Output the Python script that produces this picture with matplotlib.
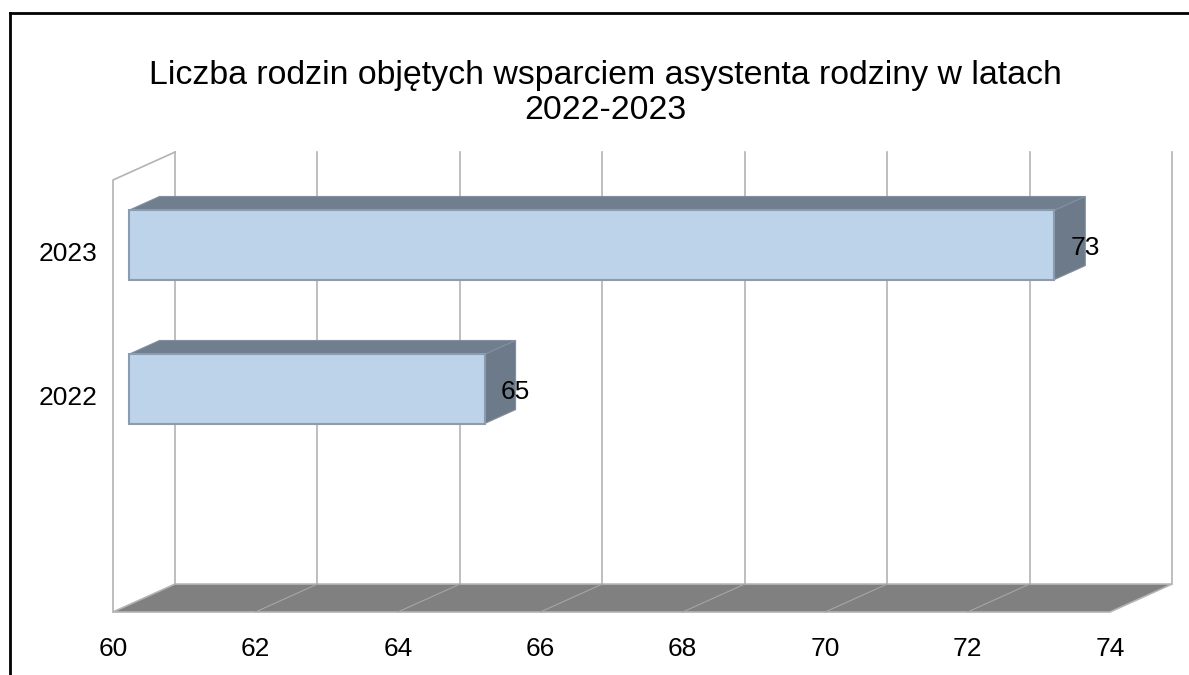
import numpy as np
import matplotlib
matplotlib.use('Agg')
import matplotlib.pyplot as plt
from matplotlib.patches import Polygon
from matplotlib.lines import Line2D

plt.rcParams['font.family'] = ['Liberation Sans', 'DejaVu Sans']

# dane
lata = ['2022', '2023']
rodziny = [65, 73]
tytul = 'Liczba rodzin objętych wsparciem asystenta rodziny w latach\n2022-2023'
x_ticks = [60, 62, 64, 66, 68, 70, 72, 74]

# os x 60-74, os y (kategorie) 0-3 odwrocona
XMIN, XMAX = 60, 74
YMIN, YMAX = 0, 3
DX = 0.871   # przesuniecie glebokosci w jednostkach x
DY = 0.194   # przesuniecie glebokosci w jednostkach y (w gore)
H = 0.24     # polowa wysokosci slupka


def proj(v, y, d):
    return (v + d * DX, y - d * DY)


fig = plt.figure(figsize=(11.89, 6.75), dpi=100)
ax = fig.add_axes([113 / 1189, 63 / 675, 997 / 1189, 432 / 675])
ax.set_xlim(XMIN, XMAX)
ax.set_ylim(YMAX, YMIN)
for s in ax.spines.values():
    s.set_visible(False)

grid_c = '#b3b3b3'

# tylna sciana - linie siatki
for k in x_ticks:
    p0 = proj(k, YMAX, 1)
    p1 = proj(k, YMIN, 1)
    ax.plot([p0[0], p1[0]], [p0[1], p1[1]], color=grid_c, lw=1.2, clip_on=False, zorder=1)

# lewa sciana
f_top = proj(XMIN, YMIN, 0)
b_top = proj(XMIN, YMIN, 1)
f_bot = proj(XMIN, YMAX, 0)
ax.plot([f_bot[0], f_top[0], b_top[0]], [f_bot[1], f_top[1], b_top[1]],
        color=grid_c, lw=1.2, clip_on=False, zorder=1)

# podloga
floor = [proj(XMIN, YMAX, 0), proj(XMAX, YMAX, 0), proj(XMAX, YMAX, 1), proj(XMIN, YMAX, 1)]
ax.add_patch(Polygon(floor, closed=True, facecolor='#808080', edgecolor=grid_c,
                     lw=1.2, clip_on=False, zorder=2))
for k in x_ticks[1:-1]:
    p0 = proj(k, YMAX, 0)
    p1 = proj(k, YMAX, 1)
    ax.plot([p0[0], p1[0]], [p0[1], p1[1]], color='#a6a6a6', lw=0.8, clip_on=False, zorder=3)

# slupki 3D
front_c = '#bdd3e9'
top_c = '#717e8d'
side_c = '#6c7a8a'
for i, (rok, v) in enumerate(zip(lata, rodziny)):
    c = 1.5 - i
    top = [proj(XMIN, c - H, 0.25), proj(v, c - H, 0.25), proj(v, c - H, 0.75), proj(XMIN, c - H, 0.75)]
    side = [proj(v, c - H, 0.25), proj(v, c - H, 0.75), proj(v, c + H, 0.75), proj(v, c + H, 0.25)]
    front = [proj(XMIN, c - H, 0.25), proj(v, c - H, 0.25), proj(v, c + H, 0.25), proj(XMIN, c + H, 0.25)]
    ax.add_patch(Polygon(top, closed=True, facecolor=top_c, edgecolor='#8090a0', lw=0.8, zorder=4))
    ax.add_patch(Polygon(side, closed=True, facecolor=side_c, edgecolor='#8090a0', lw=0.8, zorder=4))
    ax.add_patch(Polygon(front, closed=True, facecolor=front_c, edgecolor='#8c9cb0', lw=1.5, zorder=5))
    lx, ly = proj(v, c, 0.75)[0], proj(v, c, 0.15)[1]
    ax.text(lx, ly, str(v), ha='center', va='center', fontsize=19, color='black', zorder=6)

ax.set_yticks([1.5 - i for i in range(len(lata))])
ax.set_yticklabels(lata, fontsize=19)
ax.set_xticks(x_ticks)
ax.set_xticklabels([str(t) for t in x_ticks], fontsize=19)
ax.tick_params(axis='y', length=0, pad=11)
ax.tick_params(axis='x', length=0, pad=18)

fig.text(605 / 1189, 1 - 93 / 675, tytul, ha='center', va='center', fontsize=24.4,
         linespacing=1.15)

# ramka wykresu
fig.add_artist(Line2D([10 / 1189, 1.0], [1 - 13 / 675] * 2, color='black', lw=2,
                      transform=fig.transFigure))
fig.add_artist(Line2D([10 / 1189] * 2, [0.0, 1 - 13 / 675], color='black', lw=2,
                      transform=fig.transFigure))

fig.savefig('out.png', dpi=100)
